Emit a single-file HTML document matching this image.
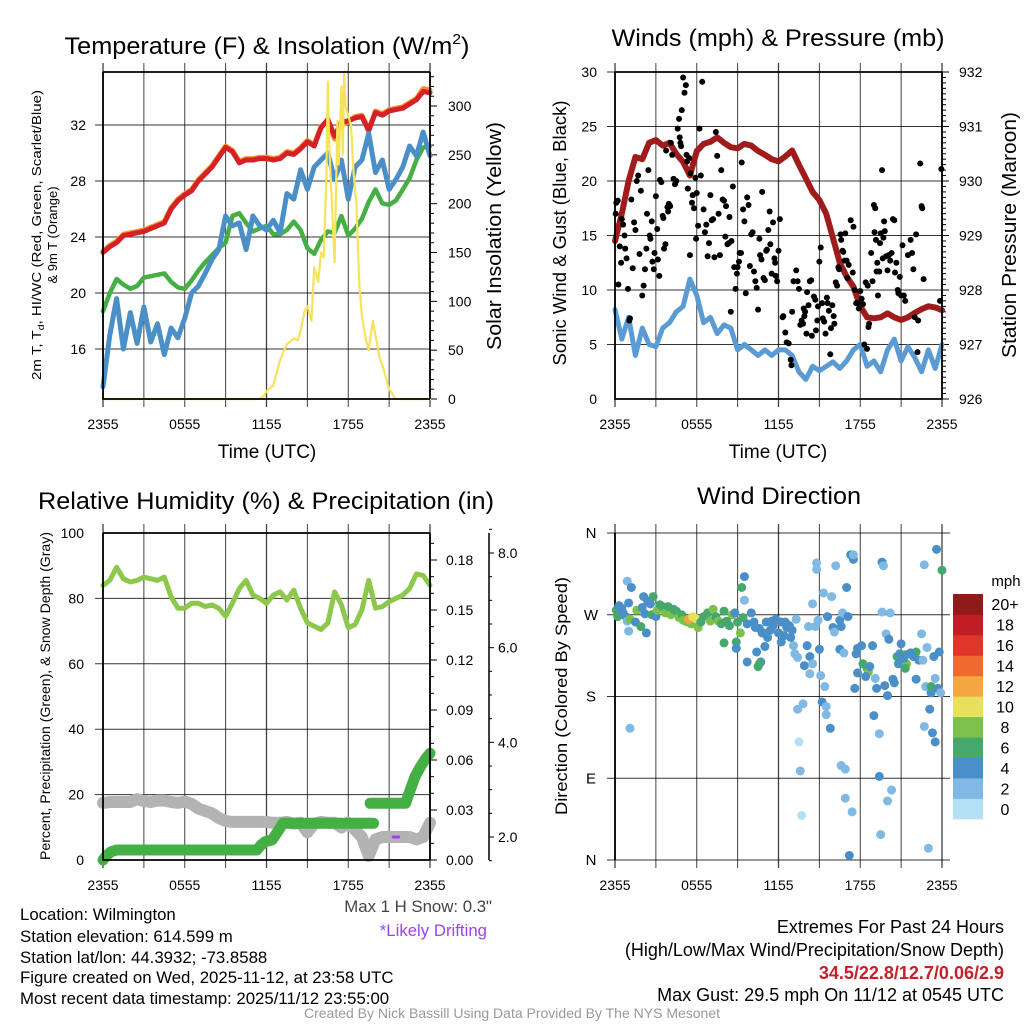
<!DOCTYPE html>
<html><head><meta charset="utf-8"><style>
html,body{margin:0;padding:0;background:#fff;}
svg{display:block;font-family:"Liberation Sans",sans-serif;}
</style></head><body>
<svg id="chart" width="1024" height="1024" viewBox="0 0 1024 1024" xmlns="http://www.w3.org/2000/svg">
<rect width="1024" height="1024" fill="#fff"/>
<g id="p1"></g>
<g id="p2"></g>
<g id="p3"></g>
<g id="p4"></g>
<g font-size="24" fill="#000" text-anchor="middle">
<text x="267" y="54" textLength="405" lengthAdjust="spacingAndGlyphs">Temperature (F) &amp; Insolation (W/m<tspan font-size="15" dy="-10">2</tspan><tspan dy="10">)</tspan></text>
<text x="778" y="46" textLength="333" lengthAdjust="spacingAndGlyphs">Winds (mph) &amp; Pressure (mb)</text>
<text x="266" y="509" textLength="456" lengthAdjust="spacingAndGlyphs">Relative Humidity (%) &amp; Precipitation (in)</text>
<text x="779" y="504" textLength="164" lengthAdjust="spacingAndGlyphs">Wind Direction</text>
</g>
<g fill="#000">
<text font-size="13" text-anchor="middle" transform="translate(41,235) rotate(-90)" textLength="290" lengthAdjust="spacingAndGlyphs">2m T, T<tspan font-size="9" dy="3">d</tspan><tspan dy="-3">, HI/WC (Red, Green, Scarlet/Blue)</tspan></text>
<text font-size="13" text-anchor="middle" transform="translate(57,235) rotate(-90)">&amp; 9m T (Orange)</text>
<text font-size="20" text-anchor="middle" transform="translate(501,236) rotate(-90)" textLength="228" lengthAdjust="spacingAndGlyphs">Solar Insolation (Yellow)</text>
<text font-size="19" text-anchor="middle" x="267" y="458">Time (UTC)</text>
<text font-size="18" text-anchor="middle" transform="translate(566,233) rotate(-90)" textLength="265" lengthAdjust="spacingAndGlyphs">Sonic Wind &amp; Gust (Blue, Black)</text>
<text font-size="20" text-anchor="middle" transform="translate(1016,235) rotate(-90)" textLength="246" lengthAdjust="spacingAndGlyphs">Station Pressure (Maroon)</text>
<text font-size="19" text-anchor="middle" x="778" y="458">Time (UTC)</text>
<text font-size="14" text-anchor="middle" transform="translate(50,696) rotate(-90)" textLength="328" lengthAdjust="spacingAndGlyphs">Percent, Precipitation (Green), &amp; Snow Depth (Gray)</text>
<text font-size="17" text-anchor="middle" transform="translate(567,696) rotate(-90)" textLength="238" lengthAdjust="spacingAndGlyphs">Direction (Colored By Speed)</text>
</g>
<g font-size="16.8" fill="#000">
<text x="20" y="920">Location: Wilmington</text>
<text x="20" y="942">Station elevation: 614.599 m</text>
<text x="20" y="963">Station lat/lon: 44.3932; -73.8588</text>
<text x="20" y="983">Figure created on Wed, 2025-11-12, at 23:58 UTC</text>
<text x="20" y="1004">Most recent data timestamp: 2025/11/12 23:55:00</text>
<text x="492" y="912" text-anchor="end" fill="#444">Max 1 H Snow: 0.3"</text>
<text x="487" y="936" text-anchor="end" fill="#a040f0">*Likely Drifting</text>
<text x="1004" y="933" text-anchor="end" font-size="18">Extremes For Past 24 Hours</text>
<text x="1004" y="956" text-anchor="end" font-size="18">(High/Low/Max Wind/Precipitation/Snow Depth)</text>
<text x="1004" y="979" text-anchor="end" fill="#c8202a" font-weight="bold" font-size="18">34.5/22.8/12.7/0.06/2.9</text>
<text x="1004" y="1001" text-anchor="end" font-size="18">Max Gust: 29.5 mph On 11/12 at 0545 UTC</text>
<text x="512" y="1018" text-anchor="middle" fill="#999" font-size="14">Created By Nick Bassill Using Data Provided By The NYS Mesonet</text>
</g>
</svg>
<script>
// ---- data (hours since 2355 UTC, half-hour steps) ----
const hours = [0,0.5,1,1.5,2,2.5,3,3.5,4,4.5,5,5.5,6,6.5,7,7.5,8,8.5,9,9.5,10,10.5,11,11.5,12,12.5,13,13.5,14,14.5,15,15.5,16,16.5,17,17.5,18,18.5,19,19.5,20,20.5,21,21.5,22,22.5,23,23.5,24];
const xTickLabels = ["2355","0555","1155","1755","2355"];
const tempRed = [22.9,23.3,23.6,24.1,24.2,24.3,24.4,24.6,24.8,25.0,26.0,26.6,27.0,27.3,28.0,28.5,29.0,29.7,30.4,30.1,29.3,29.5,29.5,29.6,29.6,29.5,29.6,30.0,29.9,30.3,30.8,30.5,31.8,32.4,31.2,32.2,32.3,32.5,32.6,31.6,32.9,32.7,33.0,33.1,33.2,33.5,33.8,34.4,34.3];
const tempOrange = [23.0,23.4,23.7,24.2,24.3,24.4,24.5,24.7,24.9,25.1,26.1,26.7,27.1,27.4,28.1,28.6,29.1,29.8,30.5,30.2,29.4,29.6,29.6,29.7,29.7,29.6,29.7,30.1,30.0,30.4,30.9,30.6,31.9,32.3,31.0,32.1,32.2,32.6,32.7,31.7,33.0,32.8,33.1,33.2,33.3,33.6,33.9,34.6,34.5];
const dewGreen = [18.7,20.0,21.0,20.6,20.3,20.5,21.1,21.2,21.3,21.4,20.8,20.4,20.3,20.9,21.6,22.2,22.7,23.2,23.6,25.5,25.7,25.0,24.4,24.6,24.8,24.2,24.2,24.5,25.1,24.5,23.2,22.8,23.8,24.4,24.3,25.5,24.1,24.6,25.3,26.5,27.4,26.4,26.3,26.6,27.4,28.2,29.5,30.4,30.5];
const chillBlue = [13.3,17.0,19.6,16.0,18.6,16.4,19.0,16.5,17.8,15.6,17.5,16.8,18.2,20.0,20.5,21.4,22.4,23.1,25.5,24.8,25.0,23.1,25.5,24.8,24.5,25.2,24.3,27.1,26.7,28.8,27.4,29.0,29.5,30.0,28.1,29.5,26.7,29.0,29.5,31.4,28.6,29.5,27.4,28.1,29.0,30.5,29.8,31.5,29.8];
const tempTicks = [16,20,24,28,32];
const solarTicks = [0,50,100,150,200,250,300];
const solarHours = [0,11.5,11.8,12,12.5,13,13.3,13.5,14,14.3,14.5,14.8,15,15.3,15.5,15.8,16,16.2,16.4,16.5,16.6,16.8,17,17.2,17.3,17.5,17.6,17.7,17.8,18,18.2,18.4,18.6,18.8,19,19.3,19.5,19.8,20,20.3,20.5,20.8,21,21.5,24];
const solarVals = [0,0,3,8,14,40,50,56,62,60,70,90,95,80,135,120,150,145,230,325,260,200,140,285,240,320,250,335,300,290,280,230,200,120,85,60,50,80,65,42,35,20,10,0,0];
const windBlue = [8.2,5.5,7.5,4.0,6.5,5.0,4.8,6.5,7.0,8.0,8.5,11.0,9.5,7.0,7.5,6.0,6.8,6.5,4.5,5.0,4.5,4.0,4.5,4.0,4.5,4.5,4.0,2.5,1.8,3.0,2.6,3.0,3.4,2.8,3.5,4.5,5.0,3.0,3.5,2.5,4.5,5.5,3.5,4.8,3.8,2.5,4.5,2.8,5.0];
const pressure = [928.9,929.4,930.0,930.44,930.4,930.7,930.75,930.65,930.7,930.5,930.35,930.1,930.55,930.68,930.72,930.8,930.7,930.62,930.6,930.68,930.65,930.55,930.48,930.4,930.36,930.45,930.56,930.3,930.05,929.8,929.65,929.4,928.95,928.5,928.25,928.06,927.7,927.5,927.48,927.5,927.57,927.5,927.45,927.5,927.58,927.65,927.7,927.68,927.63];
const windTicks = [0,5,10,15,20,25,30];
const pressTicks = [926,927,928,929,930,931,932];
const gustObs = [[0.05,17],[0.1,18],[0.2,18.2],[0.25,10.5],[0.35,14],[0.45,12.5],[0.5,16.5],[0.6,16],[0.7,15],[0.75,13.8],[0.85,12.9],[0.95,10.1],[1.05,7.2],[1.1,7.4],[1.2,18.3],[1.3,12],[1.4,16.2],[1.5,15.5],[1.6,20],[1.7,20.5],[1.8,13.3],[1.9,19.1],
[2.0,9.5],[2.1,10.4],[2.2,11.9],[2.3,13.8],[2.35,17],[2.45,21],[2.55,15],[2.6,14.7],[2.7,16.3],[2.75,12.6],[2.85,11.9],[2.9,13.4],[3.0,18.6],[3.1,15.6],[3.15,12.8],[3.25,11.3],[3.3,20.1],[3.4,19.9],[3.5,16.8],[3.55,16.6],[3.6,13.8],[3.7,14.2],[3.75,22.8],[3.85,17.6],[3.9,17.2],[3.95,17.9],[4.05,17.7],
[4.1,23.5],[4.2,22.4],[4.3,20.2],[4.4,19.7],[4.5,20],[4.6,24.8],[4.7,25.7],[4.75,24],[4.85,23.2],[4.9,26.5],[4.8,23.5],[5.0,29.5],[5.1,28.1],[5.2,28.8],[5.3,21.8],[5.35,19.3],[5.45,22.1],[5.55,20.7],[5.65,18],[5.7,18.7],[5.8,17.5],[5.9,20.3],[5.95,14.7],[5.5,13.2],[5.25,22.4],
[6.0,18.9],[6.1,15.9],[6.2,24.8],[6.3,20.5],[6.4,29.1],[6.5,17.4],[6.6,15.3],[6.7,16],[6.8,13.1],[6.9,14.3],[7.0,18.7],[7.1,16.4],[7.2,16.5],[7.3,13.0],[7.4,24.5],[7.5,22.3],[7.6,17],[7.7,13.2],[7.8,21.0],
[7.9,18.3],[8.0,18.2],[8.1,14.9],[8.15,17.7],[8.25,14.2],[8.35,14.3],[8.4,16.7],[8.5,8.0],[8.55,14.5],[8.65,19.5],[8.75,12.1],[8.85,10.1],[8.95,11.5],[9.0,12.1],[9.1,12.6],[9.15,13.4],[9.25,13.4],[9.3,21.7],[9.4,17.4],[9.5,16.3],[9.6,9.7],
[9.7,18.5],[9.8,17.8],[9.9,12.2],[10.0,15.1],[10.1,15.3],[10.2,11.7],[10.3,10.8],[10.4,10.2],[10.5,8.2],[10.6,14.7],[10.65,13.2],[10.75,12.8],[10.8,19],[10.9,11.1],[11.0,10.9],[11.1,13.6],[11.15,13.7],[11.25,15.5],[11.35,17.2],[11.4,14.2],[11.5,11.5],[11.6,16.2],[11.7,12.9],[11.75,12.5],[11.8,11.3],[11.9,10.8],[12.0,13.6],[12.1,16.5],
[12.3,7.5],[12.35,7.6],[12.5,6.1],[12.6,5.2],[12.75,5.1],[12.9,3.6],[12.95,3.1],[13.0,8.0],[13.1,10.8],[13.3,11.8],[13.4,10.8],[13.5,10.1],[13.6,6.8],[13.7,7.2],[13.8,6.9],[13.85,8.3],[13.95,8.0],[13.9,7.6],[14.05,6.0],[14.1,9.8],
[14.2,8.6],[14.3,10.8],[14.4,10.9],[14.45,5.8],[14.6,9.4],[14.7,9.1],[14.75,6.3],[14.85,7.2],[14.9,8.5],[15.0,12.6],[15.1,13.9],[15.2,8.8],[15.25,7.4],[15.35,7.1],[15.45,6.0],[15.55,9.3],[15.6,8.8],[15.7,8.1],[15.8,4.1],[15.85,6.5],[15.95,8.6],[16.05,7.6],[16.1,6.9],
[16.2,10.7],[16.3,10.4],[16.4,12.1],[16.45,11.9],[16.55,15.1],[16.6,14.6],[16.7,13.6],[16.75,13.5],[16.85,12.7],[16.9,15.2],[17.0,12.7],[17.05,11.1],[17.15,12.3],[17.3,16.4],[17.5,15.8],[17.6,10.0],[17.7,8.8],[17.8,8.8],[17.9,8.3],[17.45,11.6],[18.0,9.9],[18.1,9.2],[18.2,8.7],[18.3,5.0],
[18.5,4.6],[18.6,6.6],[18.65,6.9],[18.4,10.7],[18.55,10.4],[18.8,13.4],[18.9,10.8],[19.0,17.8],[19.1,17.5],[19.05,15.3],[19.15,14.6],[19.2,11.7],[19.25,12.5],[19.3,9.5],[19.4,11.7],[19.45,14.3],[19.5,15.2],[19.6,21],[19.65,12.9],[19.75,16.3],[19.8,15.4],[19.7,14.8],
[19.9,13.1],[20.0,11.8],[20.1,13.2],[20.2,12.7],[20.3,13.4],[20.4,16.5],[20.5,16.4],[20.55,11.6],[20.65,12.5],[20.75,10.0],[20.8,9.7],[20.9,11.2],[21.0,9.5],[21.1,14.1],[21.2,9.5],[21.3,9.0],
[21.5,13.2],[21.7,14.6],[21.8,13.4],[21.9,11.9],[22.1,15.1],[22.0,7.5],[22.2,4.3],[22.25,7.2],[22.4,21.6],[22.5,17.7],[22.55,17.5],[22.65,11.0],[23.95,21.1],[23.85,9.0]];
const rh = [84,85.5,89.5,86,85,85.5,86.5,86,85.5,86.5,80.5,77,77,78.5,78.5,77.5,78,77,74.5,78.5,83,85.5,81,80,78.5,81,82,79.5,82.5,77,72.5,71.5,70.5,72.5,82,78,71,72,76.5,85.5,77,77.5,79,80,81,83,87.5,87,84];
const snowDepth = [2.72,2.74,2.74,2.74,2.74,2.8,2.76,2.74,2.77,2.77,2.74,2.72,2.75,2.7,2.6,2.55,2.5,2.4,2.34,2.32,2.32,2.32,2.32,2.32,2.32,2.3,2.3,2.32,2.28,2.3,2.1,2.28,2.32,2.3,2.3,2.2,2.3,2.15,2.0,1.6,1.95,2.0,2.0,2.0,2.0,2.0,1.95,2.0,2.3];
const precipSeg1Hours = [0,0.3,0.6,1.0,11.3,11.6,11.9,12.4,12.9,13.2,19.85];
const precipSeg1Vals = [0,0.003,0.005,0.006,0.006,0.009,0.011,0.012,0.018,0.022,0.022];
const precipSeg2Hours = [19.6,22.2,22.5,22.9,23.3,23.7,24];
const precipSeg2Vals = [0.034,0.034,0.041,0.050,0.056,0.061,0.064];
const driftHours = [21.3,21.7];
const driftVals = [2.0,2.0];
const rhTicks = [0,20,40,60,80,100];
const precipTicks = ["0.00","0.03","0.06","0.09","0.12","0.15","0.18"];
const snowTicks = ["2.0","4.0","6.0","8.0"];
const dirLabels = ["N","E","S","W","N"];
const dirTicks = [0,90,180,270,360];
const speedBins = ["0","2","4","6","8","10","12","14","16","18","20+"];
const speedColors = ["#b3e0f5","#80b9e3","#4a8fc7","#47a86e","#7cc24a","#e7e05a","#f5a742","#ef6a2e","#e0352a","#c01d24","#8f1a1a"];
const dirObs = [[0.1,275,7],[0.2,268,7.5],[0.3,280,5],[0.5,277,5],[0.6,272,4.5],[0.8,268,5],[0.9,263,3],[1.0,283,4],[1.1,265,8],[0.9,307,3],[1.2,300,5],[1.0,252,3],[1.5,262,5],[1.6,275,8],[1.9,257,7],[2.0,278,5],[2.1,290,5],[2.2,271,5],[2.3,250,5],[2.4,285,5],[2.6,282,5],[2.7,270,7],[2.8,290,7],[3.0,268,5],[3.1,275,9],[1.1,145,3],
[3.3,281,7],[3.5,279,7],[3.7,272,9],[3.9,279,7],[4.1,270,9],[4.3,276,7],[4.5,274,7],[4.7,267,9],[4.9,270,7],[5.0,264,9],[5.2,263,9],[5.3,262,9],[5.5,265,9],[5.6,260,9],[5.4,265,13],[5.7,268,11],[5.9,266,11],[6.1,256,9],[6.3,262,7],[6.5,268,7],[6.8,272,7],[7.0,263,9],[7.2,276,9],[7.4,268,7],[7.6,263,9],[7.8,260,7],[8.0,274,7],[8.2,263,7],[8.4,258,7],[8.6,270,9],[8.8,272,5],[9.0,262,7],[9.2,250,9],[8.0,239,7],[8.9,240,7],[8.9,233,5],[9.3,300,7],[9.5,312,5],[9.5,286,3],[9.4,267,7],
[9.7,260,5],[10.0,272,5],[10.3,256,5],[10.6,255,5],[10.8,250,5],[11.0,235,5],[10.7,218,5],[10.6,216,7],[10.5,213,7],[9.7,218,5],[10.4,229,5],[11.2,245,5],[11.4,253,5],[11.6,258,5],[11.8,265,5],[12.0,250,5],[12.2,262,5],[12.4,247,5],[12.6,256,5],[12.8,258,5],[13.0,253,5],[12.2,240,5],[10.2,262,5],[11.1,262,5],[12.5,262,5],[12.9,245,5],[11.5,263,5],[10.9,250,5],
[13.3,265,3],[13.1,236,3],[13.2,227,3],[13.4,223,3],[14.1,236,5],[13.9,214,5],[14.2,257,3],[14.3,224,5],[14.5,282,3],[14.5,216,3],[14.3,205,3],[13.4,166,3],[13.8,172,3],[13.5,130,1],[13.6,98,3],[13.7,49,1],[14.8,327,3],[14.8,320,3],[14.9,264,3],[14.7,257,3],[15.0,232,5],[15.1,203,3],[15.3,294,3],[15.4,191,3],[15.2,174,5],[15.5,169,3],[15.5,160,3],[15.8,145,5],[15.9,290,3],[15.6,268,5],[16.0,256,5],[16.1,251,3],[16.2,324,3],[16.5,264,5],[16.6,257,5],[16.5,232,5],[16.8,228,3],[16.7,272,3],[17.1,268,5],[17.0,300,5],[17.3,336,5],[17.5,331,5],[17.5,336,3],[16.6,104,3],[16.9,100,3],[16.9,68,3],[17.4,53,3],[17.2,5,5],
[17.7,227,5],[17.8,233,5],[18.1,236,5],[18.2,216,7],[18.5,211,7],[18.6,207,9],[18.7,213,5],[18.4,202,5],[17.8,206,5],[17.6,189,5],[18.9,236,5],[19.1,200,3],[19.2,189,5],[19.6,328,5],[19.7,324,3],[19.6,273,3],[20.2,272,3],[19.9,249,3],[20.1,243,5],[19.8,192,5],[20.0,181,5],[20.4,199,5],[20.5,195,5],[19.0,159,5],[19.4,139,3],[19.4,92,5],[20.3,77,3],[20.0,65,3],[19.5,28,3],
[20.7,224,7],[20.8,216,5],[21.0,238,5],[20.9,227,5],[21.3,226,7],[21.4,216,9],[21.3,211,7],[21.6,227,5],[21.9,224,5],[22.1,229,7],[22.3,220,5],[22.5,249,3],[22.6,220,3],[22.1,199,5],[22.9,234,3],[22.7,325,3],[22.8,191,3],[23.2,184,5],[23.2,191,7],[23.1,166,5],[23.5,200,3],[23.4,224,5],[23.8,229,5],[23.7,189,5],[23.9,184,3],[23.6,342,5],[24.0,319,7],[22.7,147,3],[23.3,140,5],[23.5,130,5],[23.0,13,3],[21.7,228,5],[21.2,222,5]];

const NS = "http://www.w3.org/2000/svg";
function mk(parent, tag, attrs){const e=document.createElementNS(NS,tag);for(const k in attrs)e.setAttribute(k,attrs[k]);parent.appendChild(e);return e;}
function linScale(d0,d1,r0,r1){return v=>r0+(v-d0)*(r1-r0)/(d1-d0);}
function pathFrom(xs,ys,sx,sy){let d="";for(let i=0;i<xs.length;i++){d+=(i?"L":"M")+sx(xs[i]).toFixed(1)+","+sy(ys[i]).toFixed(1);}return d;}

function frame(g,x0,x1,y0,y1,nv,hvals,sy,opts){
  for(let k=0;k<=nv;k++){const x=x0+(x1-x0)*k/nv;
    const l=mk(g,"line",{x1:x,x2:x,y1:y0-9,y2:y1+8,stroke:"#000","stroke-width":k%4==0?1.3:1,"stroke-opacity":0.75});
    
    }
  hvals.forEach(v=>{const y=sy(v);
    const l=mk(g,"line",{x1:x0-8,x2:opts.hx1||x1,y1:y,y2:y,stroke:"#000","stroke-width":1,"stroke-opacity":0.8});
    
    });
  xTickLabels.forEach((t,i)=>{const tx=mk(g,"text",{x:x0+(x1-x0)*i/4,y:y1+30,"font-size":14,"text-anchor":"middle"});tx.textContent=t;
    
    });
}
function box(g,x0,x1,y0,y1,right){
  const r=mk(g,"path",{d:`M${x0},${y0}L${x1},${y0}M${x0},${y0}L${x0},${y1}L${x1},${y1}`+(right?`M${x1},${y0}L${x1},${y1}`:""),stroke:"#000","stroke-width":1.8,fill:"none"});
  
  
}
function line(g,xs,ys,sx,sy,color,w,name){
  const p=mk(g,"path",{d:pathFrom(xs,ys,sx,sy),stroke:color,"stroke-width":w,fill:"none","stroke-linejoin":"round","stroke-linecap":"round"});
  
  
  return p;
}
function tickLabel(g,x,y,t,anchor,size){const e=mk(g,"text",{x:x,y:y+5,"font-size":size||14,"text-anchor":anchor});e.textContent=t;
  
  }
function rtick(g,x,y,len){const l=mk(g,"line",{x1:x,x2:x+len,y1:y,y2:y,stroke:"#000","stroke-width":1});
  
  }

// ---- Panel 1 ----
(function(){
  const g=document.getElementById("p1");
  const x0=103,x1=430,y0=72,y1=399;
  const sx=linScale(0,24,x0,x1), sy=linScale(32,16,125,349), ss=linScale(0,300,399,106);
  frame(g,x0,x1,y0,y1,8,tempTicks,sy,{});
  tempTicks.forEach(v=>tickLabel(g,86,sy(v),v,"end"));
  for(let v=0;v<=330;v+=10){rtick(g,x1,ss(v),v%50==0?7:4);}
  solarTicks.forEach(v=>tickLabel(g,448,ss(v),v,"start"));
  line(g,hours,tempOrange,sx,sy,"#f7922a",5,"orange-9m-temp-line");
  line(g,hours,tempRed,sx,sy,"#d42027",5,"red-2m-temp-line");
  line(g,hours,dewGreen,sx,sy,"#44b044",4.5,"green-dewpoint-line");
  line(g,hours,chillBlue,sx,sy,"#4a8fc7",5,"blue-windchill-line");
  line(g,solarHours,solarVals,sx,ss,"#f7e35a",2.2,"yellow-insolation-line");
  box(g,x0,x1,y0,y1,true);
})();

// ---- Panel 2 ----
(function(){
  const g=document.getElementById("p2");
  const x0=615,x1=942,y0=72,y1=399;
  const sx=linScale(0,24,x0,x1), sy=linScale(0,30,399,72), sp=linScale(926,932,399,72);
  frame(g,x0,x1,y0,y1,8,windTicks.slice(1),sy,{});
  windTicks.forEach(v=>tickLabel(g,597,sy(v),v,"end"));
  for(let v=926;v<=932.001;v+=0.1){rtick(g,x1,sp(v),Math.abs(v-Math.round(v))<0.01?7:4);}
  pressTicks.forEach(v=>tickLabel(g,959,sp(v),v,"start"));
  line(g,hours,windBlue,sx,sy,"#5a9bd5",5,"blue-sonic-wind-line");
  line(g,hours,pressure,sx,sp,"#a01c1c",6,"maroon-pressure-line");
  gustObs.forEach(o=>{const c=mk(g,"circle",{cx:sx(o[0]),cy:sy(o[1]),r:3,fill:"#000"});
    
    });
  box(g,x0,x1,y0,y1,true);
})();

// ---- Panel 3 ----
(function(){
  const g=document.getElementById("p3");
  const x0=103,x1=430,y0=533,y1=860;
  const sx=linScale(0,24,x0,x1), sy=linScale(0,100,860,533), sp=linScale(0,0.18,860,560), sn=linScale(2,8,837,553);
  frame(g,x0,x1,y0,y1,8,rhTicks.slice(1,5),sy,{});
  rhTicks.forEach(v=>tickLabel(g,84,sy(v),v,"end"));
  for(let k=0;k<=19;k++){rtick(g,x1,sp(k*0.01),k%3==0?7:4);}
  precipTicks.forEach(t=>tickLabel(g,446,sp(parseFloat(t)),t,"start"));
  const ax=mk(g,"line",{x1:489,x2:489,y1:533,y2:860,stroke:"#000","stroke-width":1.5});
  
  
  for(let v=1.5;v<=8.51;v+=0.5){rtick(g,489,sn(v),Math.abs(v-Math.round(v/2)*2)<0.01?5:3);}
  snowTicks.forEach(t=>tickLabel(g,498,sn(parseFloat(t)),t,"start"));
  line(g,hours,snowDepth,sx,sn,"#b3b3b3",12,"gray-snow-depth-line");
  line(g,precipSeg1Hours,precipSeg1Vals,sx,sp,"#44b044",11,"green-precip-line");
  line(g,precipSeg2Hours,precipSeg2Vals,sx,sp,"#44b044",11,"green-precip-line-late");
  line(g,driftHours,driftVals,sx,sn,"#a040f0",3,"drifting-marker");
  line(g,hours,rh,sx,sy,"#8cc84b",5,"rh-line");
  box(g,x0,x1,y0,y1,true);
})();

// ---- Panel 4 ----
(function(){
  const g=document.getElementById("p4");
  const x0=615,x1=942,y0=533,y1=860;
  const sx=linScale(0,24,x0,x1), sy=linScale(0,360,860,533);
  frame(g,x0,x1,y0,y1,8,dirTicks,sy,{hx1:950});
  dirTicks.forEach((v,i)=>tickLabel(g,591,sy(v),dirLabels[i],"middle",15));
  const lax=mk(g,"line",{x1:x0,x2:x0,y1:y0,y2:y1,stroke:"#000","stroke-width":1.8});
  
  
  dirObs.forEach(o=>{const bin=Math.min(10,Math.floor(o[2]/2));
    const c=mk(g,"circle",{cx:sx(o[0]),cy:sy(o[1]),r:4.5,fill:speedColors[bin]});
    
    });
  const cb=mk(g,"g",{});
  
  
  const ch=225/11;
  speedBins.forEach((t,i)=>{const y=819-(i+1)*ch;
    const r=mk(cb,"rect",{x:953,y:y,width:30,height:ch+0.4,fill:speedColors[i]});
    
    
    const tx=mk(cb,"text",{x:1005,y:y+ch/2+6,"font-size":16,"text-anchor":"middle"});tx.textContent=t;
    
    });
  const u=mk(cb,"text",{x:1006,y:586,"font-size":15,"text-anchor":"middle"});u.textContent="mph";
  
  
})();
</script>
</body></html>
